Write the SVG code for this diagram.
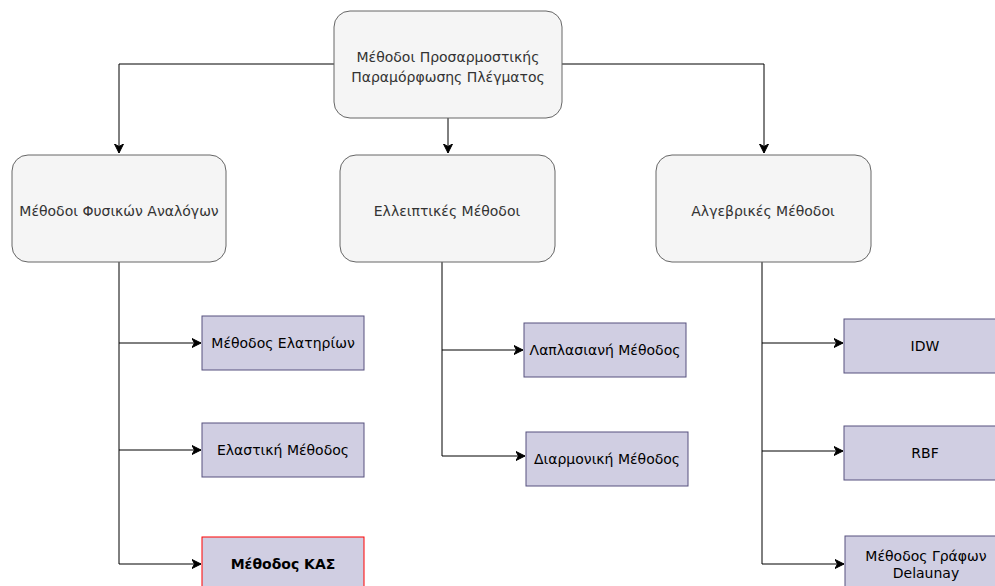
<svg xmlns="http://www.w3.org/2000/svg" width="995" height="586" viewBox="0 0 995 586">
<style>
.grp{fill:#f5f5f5;stroke:#666666;stroke-width:1}
.leaf{fill:#d0cee2;stroke:#56517e;stroke-width:1}
.red{fill:#d0cee2;stroke:#ff0000;stroke-width:1}
.t{font-family:"DejaVu Sans",sans-serif;font-size:14px;text-anchor:middle;dominant-baseline:central}
.tg{fill:#333333}
.tl{fill:#000000}
.e{fill:none;stroke:#000000;stroke-width:1}
</style>
<defs>
<marker id="arr" markerWidth="12" markerHeight="12" refX="9" refY="6" orient="auto" markerUnits="userSpaceOnUse">
<path d="M0,1.5 L9,6 L0,10.5 L2.5,6 Z" fill="#000000" stroke="#000000" stroke-width="1"/>
</marker>
</defs>
<g id="edges">
<path class="e" d="M334,64 H119 V153" marker-end="url(#arr)"/>
<path class="e" d="M448,118 V153" marker-end="url(#arr)"/>
<path class="e" d="M562,64 H764 V153" marker-end="url(#arr)"/>
<path class="e" d="M119,262 V564 H201" marker-end="url(#arr)"/>
<path class="e" d="M119,343 H201" marker-end="url(#arr)"/>
<path class="e" d="M119,450 H201" marker-end="url(#arr)"/>
<path class="e" d="M442,262 V456 H525" marker-end="url(#arr)"/>
<path class="e" d="M442,350 H523" marker-end="url(#arr)"/>
<path class="e" d="M762,262 V564 H844" marker-end="url(#arr)"/>
<path class="e" d="M762,343 H843" marker-end="url(#arr)"/>
<path class="e" d="M762,451 H843" marker-end="url(#arr)"/>
</g>
<g id="root">
<rect class="grp" x="334" y="11" width="228" height="107" rx="16"/>
<text class="t tg" x="448" y="57">Μέθοδοι Προσαρμοστικής</text>
<text class="t tg" x="448" y="77">Παραμόρφωσης Πλέγματος</text>
</g>
<g id="physical">
<rect class="grp" x="12" y="155" width="214" height="107" rx="16"/>
<text class="t tg" x="119" y="211">Μέθοδοι Φυσικών Αναλόγων</text>
</g>
<g id="elliptic">
<rect class="grp" x="340" y="155" width="215" height="107" rx="16"/>
<text class="t tg" x="447" y="211">Ελλειπτικές Μέθοδοι</text>
</g>
<g id="algebraic">
<rect class="grp" x="656" y="155" width="215" height="107" rx="16"/>
<text class="t tg" x="763" y="211">Αλγεβρικές Μέθοδοι</text>
</g>
<g id="springs">
<rect class="leaf" x="202" y="316" width="162" height="54"/>
<text class="t tl" x="283" y="343">Μέθοδος Ελατηρίων</text>
</g>
<g id="elastic">
<rect class="leaf" x="202" y="423" width="162" height="54"/>
<text class="t tl" x="283" y="450">Ελαστική Μέθοδος</text>
</g>
<g id="kas">
<rect class="red" x="202" y="537" width="162" height="54"/>
<text class="t tl" x="283" y="564" font-weight="bold">Μέθοδος ΚΑΣ</text>
</g>
<g id="laplace">
<rect class="leaf" x="524" y="323" width="162" height="54"/>
<text class="t tl" x="605" y="350">Λαπλασιανή Μέθοδος</text>
</g>
<g id="harmonic">
<rect class="leaf" x="526" y="432" width="162" height="54"/>
<text class="t tl" x="607" y="459">Διαρμονική Μέθοδος</text>
</g>
<g id="idw">
<rect class="leaf" x="844" y="319" width="162" height="54"/>
<text class="t tl" x="925" y="346">IDW</text>
</g>
<g id="rbf">
<rect class="leaf" x="844" y="426" width="162" height="54"/>
<text class="t tl" x="925" y="453">RBF</text>
</g>
<g id="delaunay">
<rect class="leaf" x="845" y="536" width="162" height="54"/>
<text class="t tl" x="926" y="556">Μέθοδος Γράφων</text>
<text class="t tl" x="926" y="573">Delaunay</text>
</g>
</svg>
